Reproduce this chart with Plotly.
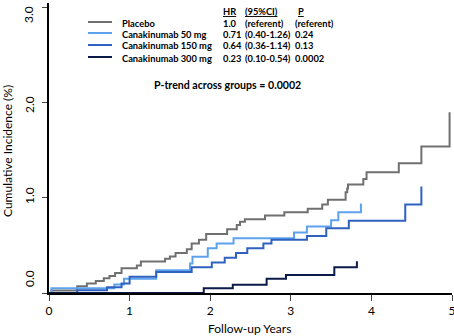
import plotly.graph_objects as go

# ---------------- data ----------------
placebo_t = [0, 0.03, 0.35, 0.47, 0.58, 0.68, 0.75, 0.82, 0.90, 1.09, 1.14, 1.44, 1.50, 1.57,
             1.71, 1.77, 1.86, 1.95, 2.21, 2.33, 2.37, 2.43, 2.68, 2.92, 3.21, 3.39, 3.46,
             3.68, 3.70, 3.71, 3.90, 3.94, 4.34, 4.62, 4.97]
placebo_y = [0, 0.025, 0.07, 0.10, 0.125, 0.155, 0.18, 0.21, 0.26, 0.29, 0.33, 0.36, 0.385, 0.42,
             0.46, 0.52, 0.56, 0.62, 0.67, 0.715, 0.75, 0.775, 0.815, 0.85, 0.885, 0.93, 0.98,
             1.06, 1.10, 1.14, 1.20, 1.27, 1.365, 1.54, 1.90]

c50_t = [0, 0.03, 0.81, 0.93, 1.33, 1.75, 1.78, 1.97, 2.08, 2.29, 3.04, 3.20, 3.50, 3.59, 3.87]
c50_y = [0, 0.05, 0.09, 0.15, 0.24, 0.31, 0.38, 0.47, 0.52, 0.575, 0.635, 0.70, 0.765, 0.85, 0.94]

c150_t = [0, 0.35, 0.72, 0.90, 1.00, 1.33, 1.77, 2.02, 2.18, 2.32, 2.46, 2.66, 2.76, 3.20,
          3.44, 3.72, 4.42, 4.62]
c150_y = [0, 0.03, 0.06, 0.10, 0.17, 0.22, 0.27, 0.32, 0.37, 0.42, 0.47, 0.52, 0.56, 0.60,
          0.68, 0.76, 0.93, 1.12]

c300_t = [0, 1.92, 2.28, 2.70, 2.94, 3.54, 3.82]
c300_y = [0, 0.05, 0.087, 0.15, 0.19, 0.27, 0.335]

group_names = ["Placebo", "Canakinumab 50 mg", "Canakinumab 150 mg", "Canakinumab 300 mg"]
hr_values = ["1.0", "0.71", "0.64", "0.23"]
ci_values = ["(referent)", "(0.40-1.26)", "(0.36-1.14)", "(0.10-0.54)"]
p_values = ["(referent)", "0.24", "0.13", "0.0002"]
header_labels = ["HR", "(95%CI)", "P"]
p_trend_text = "P-trend across groups = 0.0002"

x_ticks = [0, 1, 2, 3, 4, 5]
y_ticks = [0, 1, 2, 3]
y_tick_labels = ["0.0", "1.0", "2.0", "3.0"]

colors = ["#707070", "#5ea2ee", "#2f62c0", "#0b1a48"]

# ---------------- figure ----------------
W, H = 454, 336
ML, MR, MT, MB = 49, 2, 3, 43
PW, PH = W - ML - MR, H - MT - MB

def px(xp):
    return (xp - ML) / PW

def py(yp):
    return (H - MB - yp) / PH

fig = go.Figure()
series = [(placebo_t, placebo_y), (c50_t, c50_y), (c150_t, c150_y), (c300_t, c300_y)]
for (t, y), name, col in zip(series, group_names, colors):
    fig.add_trace(go.Scatter(x=t, y=y, mode="lines", line=dict(color=col, width=2, shape="hv"),
                             name=name, showlegend=False, hoverinfo="skip"))

font_fam = "Lato, Open Sans, sans-serif"
ann = []
shapes = []
row_y = [22, 33, 45, 57]
for i, name in enumerate(group_names):
    shapes.append(dict(type="line", xref="paper", yref="paper", x0=px(88), x1=px(112),
                       y0=py(row_y[i]), y1=py(row_y[i]), line=dict(color=colors[i], width=2)))
    ann.append(dict(text="<b>%s</b>" % name, x=px(120), y=py(row_y[i] + 1), xanchor="left", yanchor="middle"))
    ann.append(dict(text="<b>%s</b>" % hr_values[i], x=px(221), y=py(row_y[i] + 1), xanchor="left", yanchor="middle"))
    ann.append(dict(text="<b>%s</b>" % ci_values[i], x=px(243), y=py(row_y[i] + 1), xanchor="left", yanchor="middle"))
    ann.append(dict(text="<b>%s</b>" % p_values[i], x=px(293), y=py(row_y[i] + 1), xanchor="left", yanchor="middle"))
for lab, xp in zip(header_labels, [221, 243, 296]):
    ann.append(dict(text="<b><u>%s</u></b>" % lab, x=px(xp), y=py(11), xanchor="left", yanchor="middle"))
for a in ann:
    a.update(xref="paper", yref="paper", showarrow=False, font=dict(family=font_fam, size=9.3, color="#000"))

ann.append(dict(text="<b>%s</b>" % p_trend_text, x=px(227), y=py(85), xref="paper", yref="paper",
                xanchor="center", yanchor="middle", showarrow=False,
                font=dict(family=font_fam, size=10.6, color="#000")))
ann.append(dict(text="Follow-up Years", x=px(249), y=py(328), xref="paper", yref="paper",
                xanchor="center", yanchor="middle", showarrow=False,
                font=dict(family=font_fam, size=12, color="#000")))
ann.append(dict(text="Cumulative Incidence (%)", x=px(7), y=py(151), xref="paper", yref="paper",
                xanchor="center", yanchor="middle", showarrow=False, textangle=-90,
                font=dict(family=font_fam, size=12, color="#000")))
# rotated y tick labels, placed like the reference (nudged inward at the ends)
label_pix_y = [279, 105, 196, 15]
label_pix_y = [279, 196, 105, 15]
for lab, ly in zip(y_tick_labels, label_pix_y):
    ann.append(dict(text=lab, x=px(29), y=py(ly), xref="paper", yref="paper",
                    xanchor="center", yanchor="middle", showarrow=False, textangle=-90,
                    font=dict(family=font_fam, size=12, color="#000")))

fig.update_layout(
    width=W, height=H,
    margin=dict(l=ML, r=MR, t=MT, b=MB, autoexpand=False),
    paper_bgcolor="white", plot_bgcolor="white",
    font=dict(family=font_fam, size=12, color="#000"),
    annotations=ann, shapes=shapes, showlegend=False,
    xaxis=dict(range=[0, 5], tickvals=x_ticks, ticks="outside", ticklen=6, tickwidth=1,
               showline=True, linecolor="#000", linewidth=2, showgrid=False, zeroline=False,
               tickfont=dict(size=12), ticklabeloverflow="allow", fixedrange=True),
    yaxis=dict(range=[0, 3.05], tickvals=y_ticks, showticklabels=False,
               ticks="outside", ticklen=5, tickwidth=1, showline=True, linecolor="#000",
               linewidth=2, showgrid=False, zeroline=False, fixedrange=True),
)

fig.write_html("out.html", config={"displayModeBar": False},
               post_script="document.body.style.margin='0';document.body.style.overflow='hidden';")
